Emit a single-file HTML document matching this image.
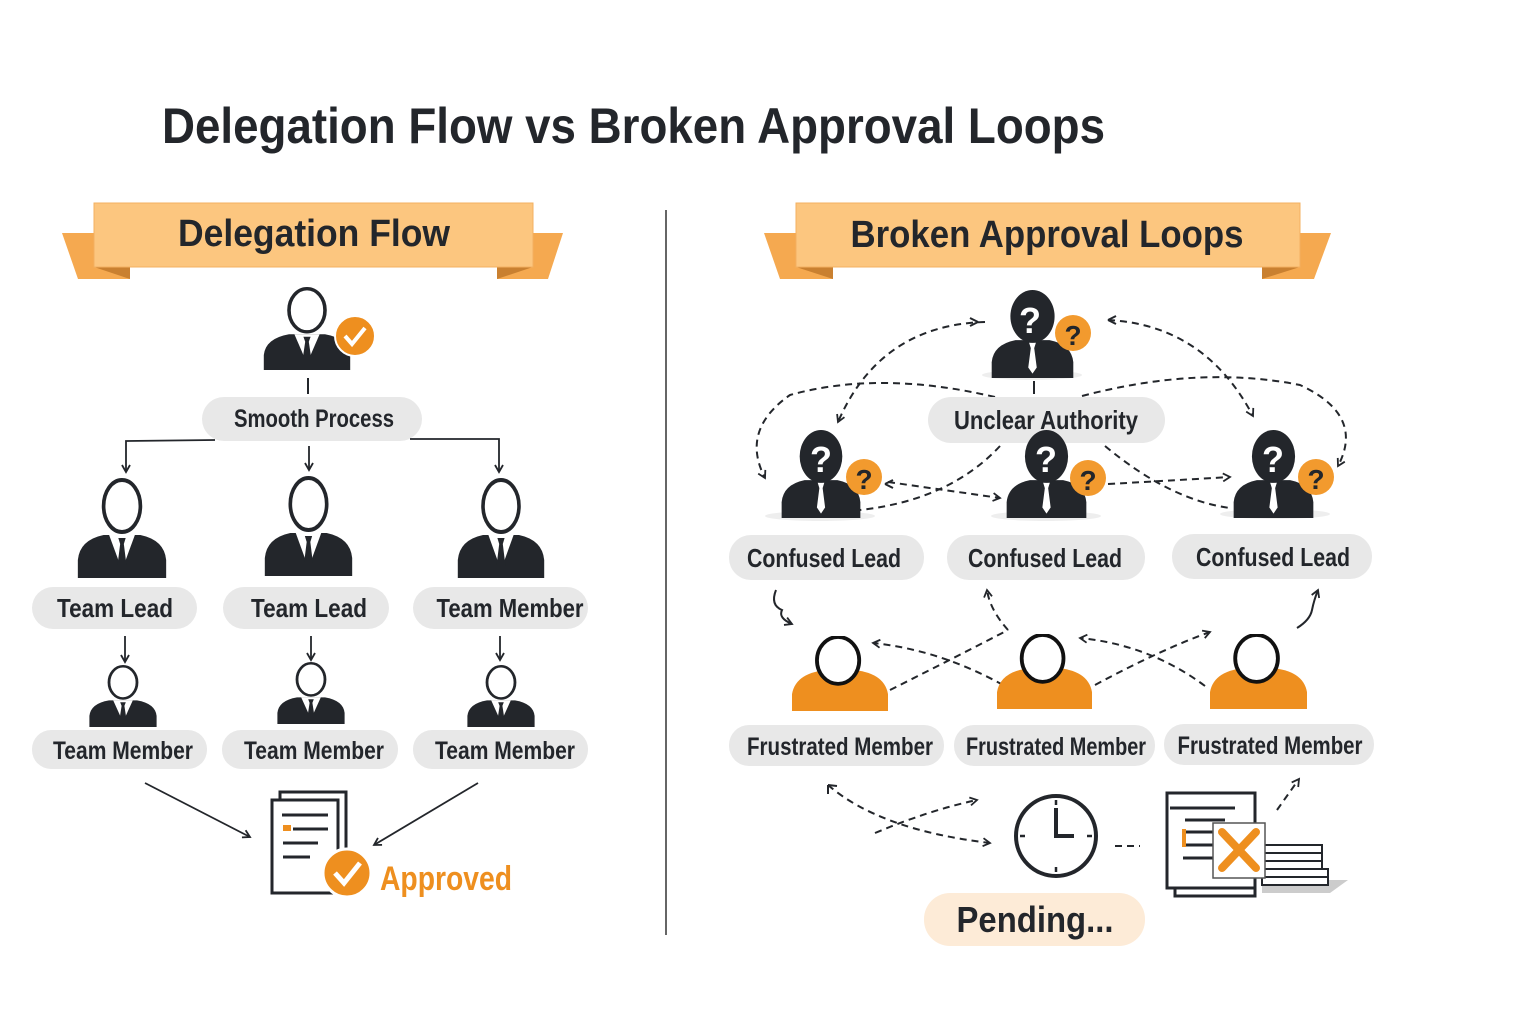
<!DOCTYPE html>
<html><head><meta charset="utf-8"><style>
html,body{margin:0;padding:0;background:#fff}
svg{display:block}
text{font-family:"Liberation Sans",sans-serif;font-weight:bold;fill:#23262b}
</style></head><body>
<svg width="1536" height="1024" viewBox="0 0 1536 1024" xmlns="http://www.w3.org/2000/svg">
<defs>
<symbol id="suit" viewBox="0 0 100 100" preserveAspectRatio="none">
<path d="M2,100 L2,82 Q4,62 30,57 L70,57 Q96,62 98,82 L98,100 Z" fill="#23262b"/>
<polygon points="36,57 50,92 64,57" fill="#fff"/>
<polygon points="46,60 54,60 52,66 55,88 50,95 45,88 48,66" fill="#23262b"/>
<ellipse cx="50" cy="28" rx="20" ry="26" fill="#fff" stroke="#23262b" stroke-width="4"/>
</symbol>
<symbol id="qsuit" viewBox="0 0 100 100" preserveAspectRatio="none">
<path d="M2,100 L2,82 Q4,62 30,57 L70,57 Q96,62 98,82 L98,100 Z" fill="#23262b"/>
<polygon points="46,60 54,60 52,66 55,88 50,95 45,88 48,66" fill="#fff"/>
<ellipse cx="50" cy="30" rx="26" ry="30" fill="#23262b"/>
</symbol>
<symbol id="frus" viewBox="0 0 100 80" preserveAspectRatio="none">
<path d="M0,80 L0,62 Q4,38 40,36 L60,36 Q96,38 100,62 L100,80 Z" fill="#ee8f1f"/>
<ellipse cx="48" cy="26" rx="22" ry="25" fill="#fff" stroke="#111" stroke-width="4"/>
</symbol>
<marker id="ah" markerWidth="10" markerHeight="10" refX="8" refY="5" orient="auto" markerUnits="userSpaceOnUse"><path d="M1,1 L8,5 L1,9" fill="none" stroke="#23262b" stroke-width="1.8"/></marker>
</defs>

<text x="162" y="143" font-size="50" textLength="943" lengthAdjust="spacingAndGlyphs">Delegation Flow vs Broken Approval Loops</text>
<line x1="666" y1="210" x2="666" y2="935" stroke="#333" stroke-width="1.5"/>

<!-- banners -->
<polygon points="62,233 130,233 130,279 78,279" fill="#f5a950"/>
<polygon points="563,233 497,233 497,279 548,279" fill="#f5a950"/>
<polygon points="94,267 130,279 130,267" fill="#c98030"/>
<polygon points="533,267 497,279 497,267" fill="#c98030"/>
<rect x="94" y="203" width="439" height="64" fill="#fcc67f" stroke="#f3b061"/>
<text x="314" y="246" font-size="38" text-anchor="middle" textLength="272" lengthAdjust="spacingAndGlyphs">Delegation Flow</text>

<polygon points="764,233 833,233 833,279 780,279" fill="#f5a950"/>
<polygon points="1331,233 1262,233 1262,279 1314,279" fill="#f5a950"/>
<polygon points="796,267 833,279 833,267" fill="#c98030"/>
<polygon points="1300,267 1262,279 1262,267" fill="#c98030"/>
<rect x="796" y="203" width="504" height="64" fill="#fcc67f" stroke="#f3b061"/>
<text x="1047" y="247" font-size="38" text-anchor="middle" textLength="393" lengthAdjust="spacingAndGlyphs">Broken Approval Loops</text>

<!-- LEFT -->
<use href="#suit" x="262" y="287" width="90" height="83"/>
<circle cx="355" cy="336" r="20" fill="#ee8f1f" stroke="#fff" stroke-width="2"/>
<path d="M345,336 L352,344 L365,328" fill="none" stroke="#fff" stroke-width="4"/>
<line x1="308" y1="378" x2="308" y2="394" stroke="#23262b" stroke-width="2"/>
<rect x="202" y="397" width="220" height="44" rx="22" fill="#e8e8e8"/>
<text x="314" y="427" font-size="25" text-anchor="middle" textLength="160" lengthAdjust="spacingAndGlyphs">Smooth Process</text>
<g fill="none" stroke="#23262b" stroke-width="1.8">
<path d="M215,440 L126,441 L126,472" marker-end="url(#ah)"/>
<path d="M309,446 L309,470" marker-end="url(#ah)"/>
<path d="M410,439 L499,439 L499,472" marker-end="url(#ah)"/>
<path d="M125,636 L125,662" marker-end="url(#ah)"/>
<path d="M311,636 L311,660" marker-end="url(#ah)"/>
<path d="M500,636 L500,660" marker-end="url(#ah)"/>
<path d="M145,783 L250,837" marker-end="url(#ah)"/>
<path d="M478,783 L374,845" marker-end="url(#ah)"/>
</g>
<use href="#suit" x="76" y="478" width="92" height="100"/>
<use href="#suit" x="263" y="476" width="91" height="100"/>
<use href="#suit" x="456" y="478" width="90" height="100"/>
<rect x="32" y="587" width="165" height="42" rx="21" fill="#e8e8e8"/>
<text x="115" y="617" font-size="26" text-anchor="middle" textLength="116" lengthAdjust="spacingAndGlyphs">Team Lead</text>
<rect x="223" y="587" width="166" height="42" rx="21" fill="#e8e8e8"/>
<text x="309" y="617" font-size="26" text-anchor="middle" textLength="116" lengthAdjust="spacingAndGlyphs">Team Lead</text>
<rect x="413" y="587" width="175" height="42" rx="21" fill="#e8e8e8"/>
<text x="510" y="617" font-size="26" text-anchor="middle" textLength="147" lengthAdjust="spacingAndGlyphs">Team Member</text>

<use href="#suit" x="88" y="665" width="70" height="62"/>
<use href="#suit" x="276" y="662" width="70" height="62"/>
<use href="#suit" x="466" y="665" width="70" height="62"/>
<rect x="32" y="730" width="175" height="39" rx="19" fill="#e8e8e8"/>
<text x="123" y="759" font-size="25" text-anchor="middle" textLength="140" lengthAdjust="spacingAndGlyphs">Team Member</text>
<rect x="222" y="730" width="176" height="39" rx="19" fill="#e8e8e8"/>
<text x="314" y="759" font-size="25" text-anchor="middle" textLength="140" lengthAdjust="spacingAndGlyphs">Team Member</text>
<rect x="413" y="730" width="175" height="39" rx="19" fill="#e8e8e8"/>
<text x="505" y="759" font-size="25" text-anchor="middle" textLength="140" lengthAdjust="spacingAndGlyphs">Team Member</text>

<!-- approved doc -->
<rect x="280" y="792" width="66" height="92" fill="#fff" stroke="#23262b" stroke-width="3"/>
<rect x="272" y="800" width="66" height="93" fill="#fff" stroke="#23262b" stroke-width="3"/>
<g stroke="#23262b" stroke-width="3"><line x1="282" y1="815" x2="328" y2="815"/><line x1="293" y1="829" x2="328" y2="829"/><line x1="283" y1="843" x2="318" y2="843"/><line x1="283" y1="857" x2="310" y2="857"/></g>
<rect x="283" y="825" width="8" height="6" fill="#ee8f1f"/>
<circle cx="347" cy="873" r="24" fill="#ee8f1f" stroke="#fff" stroke-width="3"/>
<path d="M335,873 L344,883 L360,863" fill="none" stroke="#fff" stroke-width="5"/>
<text x="380" y="890" font-size="34" style="fill:#ee8f1f" textLength="132" lengthAdjust="spacingAndGlyphs">Approved</text>

<!-- RIGHT -->
<g fill="none" stroke="#23262b" stroke-width="2" stroke-dasharray="7,5">
<path d="M985,322 Q880,325 838,422" marker-end="url(#ah)"/>
<path d="M1108,320 Q1205,325 1253,416" marker-end="url(#ah)"/>
<path d="M995,397 Q880,370 790,395 Q740,430 765,478"  marker-end="url(#ah)"/>
<path d="M1082,396 Q1200,365 1300,385 Q1365,415 1338,466" marker-end="url(#ah)"/>
<path d="M888,482 L1000,498" marker-end="url(#ah)"/>
<path d="M1108,484 Q1180,480 1230,477" marker-end="url(#ah)"/>
<path d="M1000,446 Q950,500 860,510"/>
<path d="M1105,446 Q1170,500 1230,508"/>
<path d="M1008,630 Q990,610 987,590" marker-end="url(#ah)"/>
<path d="M890,690 Q950,660 1008,630"/>
<path d="M1003,685 Q940,650 873,643" marker-end="url(#ah)"/>
<path d="M1095,685 Q1160,650 1210,632" marker-end="url(#ah)"/>
<path d="M1205,686 Q1150,645 1080,638" marker-end="url(#ah)"/>
<path d="M875,833 Q930,810 977,800" marker-end="url(#ah)"/>
<path d="M828,785 Q880,830 990,843" marker-end="url(#ah)"/>
<path d="M1115,846 L1140,846"/>
<path d="M1277,810 L1299,779" marker-end="url(#ah)"/>
</g>
<path d="M885,484 l8,-4 M885,484 l8,4" stroke="#23262b" stroke-width="2" fill="none"/>
<path d="M978,322 l-8,-4 M978,322 l-8,4" stroke="#23262b" stroke-width="2" fill="none"/>
<path d="M1108,320 l8,-4 M1108,320 l8,4" stroke="#23262b" stroke-width="2" fill="none"/>
<path d="M828,785 l0,9 M828,785 l9,1" stroke="#23262b" stroke-width="2" fill="none"/>
<g fill="none" stroke="#23262b" stroke-width="2">
<path d="M776,590 Q770,605 782,610 Q778,618 792,624" marker-end="url(#ah)"/>
<path d="M1297,628 Q1310,620 1312,610 Q1314,600 1318,590" marker-end="url(#ah)"/>
</g>

<line x1="1034" y1="381" x2="1034" y2="394" stroke="#23262b" stroke-width="2"/>
<ellipse cx="1032" cy="375" rx="50" ry="5" fill="#eee"/>
<use href="#qsuit" x="990" y="290" width="85" height="88"/>
<text x="1030" y="333" font-size="36" text-anchor="middle" style="fill:#fff">?</text>
<circle cx="1073" cy="333" r="18" fill="#f29a2e"/>
<text x="1073" y="345" font-size="28" text-anchor="middle">?</text>

<rect x="928" y="397" width="237" height="46" rx="23" fill="#e8e8e8"/>
<text x="1046" y="429" font-size="26" text-anchor="middle" textLength="184" lengthAdjust="spacingAndGlyphs">Unclear Authority</text>

<ellipse cx="820" cy="516" rx="55" ry="5" fill="#eee"/>
<ellipse cx="1046" cy="516" rx="55" ry="5" fill="#eee"/>
<ellipse cx="1275" cy="514" rx="55" ry="5" fill="#eee"/>
<use href="#qsuit" x="780" y="430" width="82" height="88"/>
<use href="#qsuit" x="1005" y="430" width="83" height="88"/>
<use href="#qsuit" x="1232" y="430" width="83" height="88"/>
<text x="821" y="472" font-size="36" text-anchor="middle" style="fill:#fff">?</text>
<text x="1046" y="472" font-size="36" text-anchor="middle" style="fill:#fff">?</text>
<text x="1273" y="472" font-size="36" text-anchor="middle" style="fill:#fff">?</text>
<circle cx="864" cy="477" r="18" fill="#f29a2e"/><text x="864" y="489" font-size="28" text-anchor="middle">?</text>
<circle cx="1088" cy="478" r="18" fill="#f29a2e"/><text x="1088" y="490" font-size="28" text-anchor="middle">?</text>
<circle cx="1316" cy="477" r="18" fill="#f29a2e"/><text x="1316" y="489" font-size="28" text-anchor="middle">?</text>

<rect x="729" y="535" width="195" height="45" rx="22" fill="#e8e8e8"/>
<text x="824" y="567" font-size="26" text-anchor="middle" textLength="154" lengthAdjust="spacingAndGlyphs">Confused Lead</text>
<rect x="947" y="535" width="198" height="45" rx="22" fill="#e8e8e8"/>
<text x="1045" y="567" font-size="26" text-anchor="middle" textLength="154" lengthAdjust="spacingAndGlyphs">Confused Lead</text>
<rect x="1172" y="534" width="200" height="45" rx="22" fill="#e8e8e8"/>
<text x="1273" y="566" font-size="26" text-anchor="middle" textLength="154" lengthAdjust="spacingAndGlyphs">Confused Lead</text>

<use href="#frus" x="792" y="636" width="96" height="75"/>
<use href="#frus" x="997" y="634" width="95" height="75"/>
<use href="#frus" x="1210" y="634" width="97" height="75"/>

<rect x="729" y="725" width="215" height="41" rx="20" fill="#e8e8e8"/>
<text x="840" y="755" font-size="25" text-anchor="middle" textLength="186" lengthAdjust="spacingAndGlyphs">Frustrated Member</text>
<rect x="954" y="725" width="201" height="41" rx="20" fill="#e8e8e8"/>
<text x="1056" y="755" font-size="25" text-anchor="middle" textLength="180" lengthAdjust="spacingAndGlyphs">Frustrated Member</text>
<rect x="1164" y="724" width="210" height="41" rx="20" fill="#e8e8e8"/>
<text x="1270" y="754" font-size="25" text-anchor="middle" textLength="185" lengthAdjust="spacingAndGlyphs">Frustrated Member</text>

<!-- clock -->
<circle cx="1056" cy="836" r="40" fill="#fff" stroke="#23262b" stroke-width="4"/>
<path d="M1056,808 L1056,836 L1074,836" fill="none" stroke="#23262b" stroke-width="4"/>
<g stroke="#23262b" stroke-width="2.5"><line x1="1056" y1="800" x2="1056" y2="805"/><line x1="1056" y1="867" x2="1056" y2="872"/><line x1="1020" y1="836" x2="1025" y2="836"/><line x1="1087" y1="836" x2="1092" y2="836"/></g>

<rect x="924" y="893" width="221" height="53" rx="26" fill="#fdebd7"/>
<text x="1035" y="932" font-size="36" text-anchor="middle" textLength="157" lengthAdjust="spacingAndGlyphs">Pending...</text>

<!-- rejected doc -->
<polygon points="1262,880 1348,880 1330,893 1262,893" fill="#ccc"/>
<g fill="#fff" stroke="#23262b" stroke-width="2">
<rect x="1262" y="845" width="60" height="8"/><rect x="1262" y="853" width="60" height="8"/><rect x="1262" y="861" width="60" height="8"/><rect x="1262" y="869" width="66" height="8"/><rect x="1262" y="877" width="66" height="8"/>
</g>
<rect x="1175" y="803" width="80" height="93" fill="#fff" stroke="#23262b" stroke-width="3"/>
<rect x="1167" y="793" width="88" height="95" fill="#fff" stroke="#23262b" stroke-width="3"/>
<g stroke="#23262b" stroke-width="3"><line x1="1170" y1="808" x2="1235" y2="808"/><line x1="1185" y1="820" x2="1225" y2="820"/><line x1="1183" y1="832" x2="1215" y2="832"/><line x1="1183" y1="845" x2="1215" y2="845"/><line x1="1183" y1="858" x2="1215" y2="858"/></g>
<rect x="1182" y="829" width="4" height="18" fill="#ee8f1f"/>
<rect x="1213" y="823" width="52" height="55" fill="#fff" stroke="#555" stroke-width="1.5"/>
<path d="M1222,832 L1256,868 M1256,832 L1222,868" stroke="#ee8f1f" stroke-width="8" stroke-linecap="round"/>
</svg>
</body></html>
